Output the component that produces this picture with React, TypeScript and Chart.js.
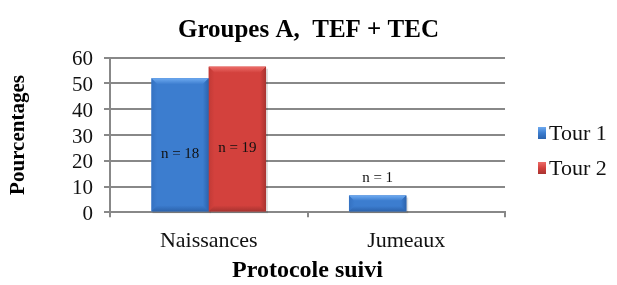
import React, { useEffect, useRef } from "react";
import { Chart, registerables } from "chart.js";

Chart.register(...registerables);

// ---- data ----
const categories = ["Naissances", "Jumeaux"];
const seriesNames = ["Tour 1", "Tour 2"];
const tour1Values: (number | null)[] = [52, 6.5];
const tour2Values: (number | null)[] = [56.5, null];
const tour1Labels = ["n = 18", "n = 1"];
const tour2Labels = ["n = 19", ""];
const yMin = 0;
const yMax = 60;
const yStep = 10;

const chartTitle = "Groupes A,  TEF + TEC";
const xTitle = "Protocole suivi";
const yTitle = "Pourcentages";

const FONT = "'Liberation Serif', 'Times New Roman', serif";

const palettes = [
  { base: "#3c7dcf", light: "#6eaaf0", dark: "#2c63ad", edge: "#3572c2" },
  { base: "#d3413d", light: "#ec6d69", dark: "#a83330", edge: "#c23a36" },
];

const bevelPlugin = {
  id: "bevel",
  afterDatasetsDraw(chart: any) {
    const ctx = chart.ctx;
    chart.data.datasets.forEach((ds: any, di: number) => {
      const meta = chart.getDatasetMeta(di);
      const p = palettes[di];
      meta.data.forEach((el: any) => {
        const { x, y, width, base } = el.getProps(["x", "y", "width", "base"], true);
        if (!Number.isFinite(y) || !Number.isFinite(base)) return;
        const l = x - width / 2;
        const r = x + width / 2;
        const t = Math.min(y, base);
        const b = Math.max(y, base);
        const h = b - t;
        if (h <= 0) return;
        const bv = Math.min(6, h / 3);
        ctx.save();
        // soft shadow
        ctx.fillStyle = "rgba(0,0,0,0.12)";
        ctx.fillRect(l + 1, t + 2, width + 1, h);
        // body gradient
        const g = ctx.createLinearGradient(l, 0, r, 0);
        g.addColorStop(0, p.edge);
        g.addColorStop(0.1, p.base);
        g.addColorStop(0.9, p.base);
        g.addColorStop(1, p.dark);
        ctx.fillStyle = g;
        ctx.fillRect(l, t, width, h);
        // top bevel
        const gt = ctx.createLinearGradient(0, t, 0, t + bv);
        gt.addColorStop(0, p.light);
        gt.addColorStop(1, p.base);
        ctx.fillStyle = gt;
        ctx.beginPath();
        ctx.moveTo(l, t);
        ctx.lineTo(r, t);
        ctx.lineTo(r - bv, t + bv);
        ctx.lineTo(l + bv, t + bv);
        ctx.closePath();
        ctx.fill();
        // right bevel
        const gr = ctx.createLinearGradient(r - bv, 0, r, 0);
        gr.addColorStop(0, p.base);
        gr.addColorStop(1, p.dark);
        ctx.fillStyle = gr;
        ctx.beginPath();
        ctx.moveTo(r, t);
        ctx.lineTo(r, b);
        ctx.lineTo(r - bv, b - bv);
        ctx.lineTo(r - bv, t + bv);
        ctx.closePath();
        ctx.fill();
        // bottom bevel
        const gb = ctx.createLinearGradient(0, b - bv, 0, b);
        gb.addColorStop(0, p.base);
        gb.addColorStop(1, p.dark);
        ctx.fillStyle = gb;
        ctx.beginPath();
        ctx.moveTo(l, b);
        ctx.lineTo(l + bv, b - bv);
        ctx.lineTo(r - bv, b - bv);
        ctx.lineTo(r, b);
        ctx.closePath();
        ctx.fill();
        ctx.restore();
      });
    });
  },
};

const labelPlugin = {
  id: "nLabels",
  afterDatasetsDraw(chart: any) {
    const ctx = chart.ctx;
    const all = [tour1Labels, tour2Labels];
    ctx.save();
    ctx.font = `15px ${FONT}`;
    ctx.fillStyle = "#111";
    ctx.textAlign = "center";
    ctx.textBaseline = "middle";
    chart.data.datasets.forEach((_ds: any, di: number) => {
      const meta = chart.getDatasetMeta(di);
      meta.data.forEach((el: any, i: number) => {
        const txt = all[di][i];
        if (!txt) return;
        const { x, y, base } = el.getProps(["x", "y", "base"], true);
        if (!Number.isFinite(y)) return;
        const h = base - y;
        const ty = h > 40 ? (y + base) / 2 + 9 : y - 17;
        ctx.fillText(txt, x, ty);
      });
    });
    ctx.restore();
  },
};

const legendPlugin = {
  id: "sideLegend",
  afterDraw(chart: any) {
    const ctx = chart.ctx;
    const area = chart.chartArea;
    const x0 = area.right + 33;
    const ys = [133, 168];
    ctx.save();
    chart.data.datasets.forEach((ds: any, di: number) => {
      const p = palettes[di];
      const cy = ys[di];
      const g = ctx.createLinearGradient(0, cy - 6, 0, cy + 6);
      g.addColorStop(0, p.light);
      g.addColorStop(0.5, p.base);
      g.addColorStop(1, p.dark);
      ctx.fillStyle = g;
      ctx.fillRect(x0, cy - 6, 8, 12);
      ctx.fillStyle = "#111";
      ctx.font = `22px ${FONT}`;
      ctx.textAlign = "left";
      ctx.textBaseline = "middle";
      ctx.fillText(ds.label, x0 + 11, cy + 1);
    });
    ctx.restore();
  },
};

export default function App() {
  const ref = useRef<HTMLCanvasElement | null>(null);
  useEffect(() => {
    if (!ref.current) return;
    const chart = new Chart(ref.current, {
      type: "bar",
      data: {
        labels: categories,
        datasets: [
          { label: seriesNames[0], data: tour1Values, backgroundColor: palettes[0].base, borderWidth: 0, yAxisID: "y" },
          { label: seriesNames[1], data: tour2Values, backgroundColor: palettes[1].base, borderWidth: 0, yAxisID: "y" },
        ],
      },
      options: {
        responsive: false,
        animation: false,
        devicePixelRatio: 1,
        layout: { padding: { left: 0, right: 0, top: 0, bottom: 0 } },
        datasets: { bar: { categoryPercentage: 0.58, barPercentage: 1 } },
        plugins: {
          legend: { display: false },
          tooltip: { enabled: false },
          title: {
            display: true,
            text: chartTitle,
            font: { family: FONT, size: 25, weight: "bold" },
            color: "#000",
            padding: { top: 16, bottom: 11.7 },
          },
        },
        scales: {
          x: {
            afterFit: (s: any) => { s.height = 72.7; },
            grid: { display: true, offset: true, drawOnChartArea: false, drawTicks: true, tickLength: 5, color: "#888", lineWidth: 2 },
            border: { display: true, color: "#888", width: 2 },
            ticks: { color: "#111", font: { family: FONT, size: 22 }, padding: 11, maxRotation: 0 },
            title: { display: true, text: xTitle, color: "#000", font: { family: FONT, size: 24, weight: "bold" }, padding: { top: 0, bottom: 0 } },
          },
          y: {
            min: yMin,
            max: yMax,
            afterFit: (s: any) => { s.width = 110; },
            grid: { color: "#888", lineWidth: 2, drawTicks: true, tickLength: 6 },
            border: { display: true, color: "#888", width: 2 },
            ticks: { stepSize: yStep, autoSkip: false, color: "#111", font: { family: FONT, size: 21 }, padding: 11, labelOffset: 2 },
            title: { display: true, text: yTitle, color: "#000", font: { family: FONT, size: 21, weight: "bold" }, padding: { top: 6.4, bottom: 0 } },
          },
          legendSpace: {
            type: "linear",
            position: "right",
            display: true,
            afterFit: (s: any) => { s.width = 112; },
            grid: { display: false, drawTicks: false },
            border: { display: false },
            ticks: { display: false },
          },
        },
      },
      plugins: [bevelPlugin, labelPlugin, legendPlugin],
    });
    return () => chart.destroy();
  }, []);
  return (
    <div style={{ position: "absolute", left: 0, top: 0, width: 617, height: 285, background: "#fff" }}>
      <canvas ref={ref} width={617} height={285} style={{ display: "block" }} />
    </div>
  );
}
